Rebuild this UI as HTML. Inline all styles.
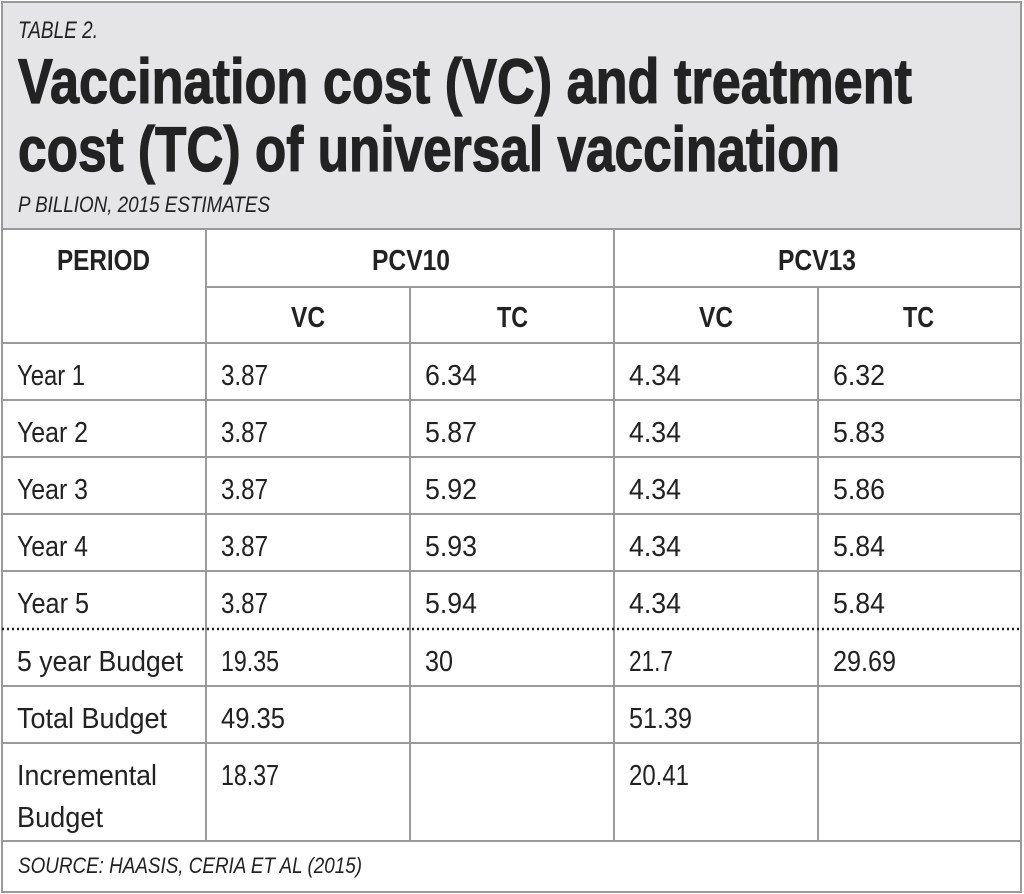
<!DOCTYPE html>
<html><head><meta charset="utf-8"><style>
html,body{margin:0;padding:0;background:#fff;}
svg{display:block;}
text{font-family:"Liberation Sans Narrow","Liberation Sans",sans-serif;fill:#222;}
.b{font-weight:bold;}
.i{font-style:italic;}
.t{font-size:29px;}
.h{font-size:29px;font-weight:bold;}
</style></head><body>
<svg width="1024" height="894" viewBox="0 0 1024 894" xmlns="http://www.w3.org/2000/svg">
<rect x="0" y="0" width="1024" height="894" fill="#fff"/>
<rect x="2" y="2" width="1019" height="227" fill="#e5e5e7"/>
<g stroke="#9a9a9a" stroke-width="2" fill="none">
<rect x="2" y="2" width="1019" height="890"/>
<line x1="2" y1="229" x2="1021" y2="229"/>
<line x1="206" y1="287" x2="1021" y2="287"/>
<line x1="2" y1="343" x2="1021" y2="343"/>
<line x1="2" y1="400" x2="1021" y2="400"/>
<line x1="2" y1="457" x2="1021" y2="457"/>
<line x1="2" y1="514" x2="1021" y2="514"/>
<line x1="2" y1="571" x2="1021" y2="571"/>
<line x1="2" y1="686" x2="1021" y2="686"/>
<line x1="2" y1="743" x2="1021" y2="743"/>
<line x1="2" y1="841" x2="1021" y2="841"/>
<line x1="206" y1="229" x2="206" y2="841"/>
<line x1="614" y1="229" x2="614" y2="841"/>
<line x1="410" y1="287" x2="410" y2="841"/>
<line x1="818" y1="287" x2="818" y2="841"/>
</g>
<line x1="2" y1="629" x2="1021" y2="629" stroke="#222" stroke-width="2.5" stroke-dasharray="2,3"/>
<text x="18" y="38" class="i" font-size="24" textLength="80" lengthAdjust="spacingAndGlyphs">TABLE 2.</text>
<text x="18" y="103" class="b" font-size="63" textLength="894" lengthAdjust="spacingAndGlyphs" stroke="#222" stroke-width="1.2">Vaccination cost (VC) and treatment</text>
<text x="18" y="171" class="b" font-size="63" textLength="822" lengthAdjust="spacingAndGlyphs" stroke="#222" stroke-width="1.2">cost (TC) of universal vaccination</text>
<text x="18" y="212" class="i" font-size="22" textLength="252" lengthAdjust="spacingAndGlyphs">P BILLION, 2015 ESTIMATES</text>
<g class="h">
<text x="57" y="270" textLength="93" lengthAdjust="spacingAndGlyphs">PERIOD</text>
<text x="372" y="270" textLength="78" lengthAdjust="spacingAndGlyphs">PCV10</text>
<text x="778" y="270" textLength="78" lengthAdjust="spacingAndGlyphs">PCV13</text>
<text x="291" y="327" textLength="34" lengthAdjust="spacingAndGlyphs">VC</text>
<text x="497" y="327" textLength="31" lengthAdjust="spacingAndGlyphs">TC</text>
<text x="699" y="327" textLength="34" lengthAdjust="spacingAndGlyphs">VC</text>
<text x="903" y="327" textLength="31" lengthAdjust="spacingAndGlyphs">TC</text>
</g>
<g class="t">
<text x="17" y="385" textLength="68" lengthAdjust="spacingAndGlyphs">Year 1</text><text x="221" y="385" textLength="47" lengthAdjust="spacingAndGlyphs">3.87</text><text x="425" y="385" textLength="52" lengthAdjust="spacingAndGlyphs">6.34</text><text x="629" y="385" textLength="52" lengthAdjust="spacingAndGlyphs">4.34</text><text x="833" y="385" textLength="52" lengthAdjust="spacingAndGlyphs">6.32</text>
<text x="17" y="442" textLength="71" lengthAdjust="spacingAndGlyphs">Year 2</text><text x="221" y="442" textLength="47" lengthAdjust="spacingAndGlyphs">3.87</text><text x="425" y="442" textLength="52" lengthAdjust="spacingAndGlyphs">5.87</text><text x="629" y="442" textLength="52" lengthAdjust="spacingAndGlyphs">4.34</text><text x="833" y="442" textLength="52" lengthAdjust="spacingAndGlyphs">5.83</text>
<text x="17" y="499" textLength="71" lengthAdjust="spacingAndGlyphs">Year 3</text><text x="221" y="499" textLength="47" lengthAdjust="spacingAndGlyphs">3.87</text><text x="425" y="499" textLength="52" lengthAdjust="spacingAndGlyphs">5.92</text><text x="629" y="499" textLength="52" lengthAdjust="spacingAndGlyphs">4.34</text><text x="833" y="499" textLength="52" lengthAdjust="spacingAndGlyphs">5.86</text>
<text x="17" y="556" textLength="71" lengthAdjust="spacingAndGlyphs">Year 4</text><text x="221" y="556" textLength="47" lengthAdjust="spacingAndGlyphs">3.87</text><text x="425" y="556" textLength="52" lengthAdjust="spacingAndGlyphs">5.93</text><text x="629" y="556" textLength="52" lengthAdjust="spacingAndGlyphs">4.34</text><text x="833" y="556" textLength="52" lengthAdjust="spacingAndGlyphs">5.84</text>
<text x="17" y="613" textLength="72" lengthAdjust="spacingAndGlyphs">Year 5</text><text x="221" y="613" textLength="47" lengthAdjust="spacingAndGlyphs">3.87</text><text x="425" y="613" textLength="52" lengthAdjust="spacingAndGlyphs">5.94</text><text x="629" y="613" textLength="52" lengthAdjust="spacingAndGlyphs">4.34</text><text x="833" y="613" textLength="52" lengthAdjust="spacingAndGlyphs">5.84</text>
<text x="17" y="671" textLength="166" lengthAdjust="spacingAndGlyphs">5 year Budget</text><text x="221" y="671" textLength="58" lengthAdjust="spacingAndGlyphs">19.35</text><text x="425" y="671" textLength="28" lengthAdjust="spacingAndGlyphs">30</text><text x="629" y="671" textLength="44" lengthAdjust="spacingAndGlyphs">21.7</text><text x="833" y="671" textLength="63" lengthAdjust="spacingAndGlyphs">29.69</text>
<text x="17" y="728" textLength="150" lengthAdjust="spacingAndGlyphs">Total Budget</text><text x="221" y="728" textLength="64" lengthAdjust="spacingAndGlyphs">49.35</text><text x="629" y="728" textLength="63" lengthAdjust="spacingAndGlyphs">51.39</text>
<text x="17" y="785" textLength="140" lengthAdjust="spacingAndGlyphs">Incremental</text><text x="221" y="785" textLength="58" lengthAdjust="spacingAndGlyphs">18.37</text><text x="629" y="785" textLength="60" lengthAdjust="spacingAndGlyphs">20.41</text>
<text x="17" y="827" textLength="86" lengthAdjust="spacingAndGlyphs">Budget</text>
</g>
<text x="18" y="873" class="i" font-size="22" textLength="344" lengthAdjust="spacingAndGlyphs">SOURCE: HAASIS, CERIA ET AL (2015)</text>
</svg>
</body></html>
